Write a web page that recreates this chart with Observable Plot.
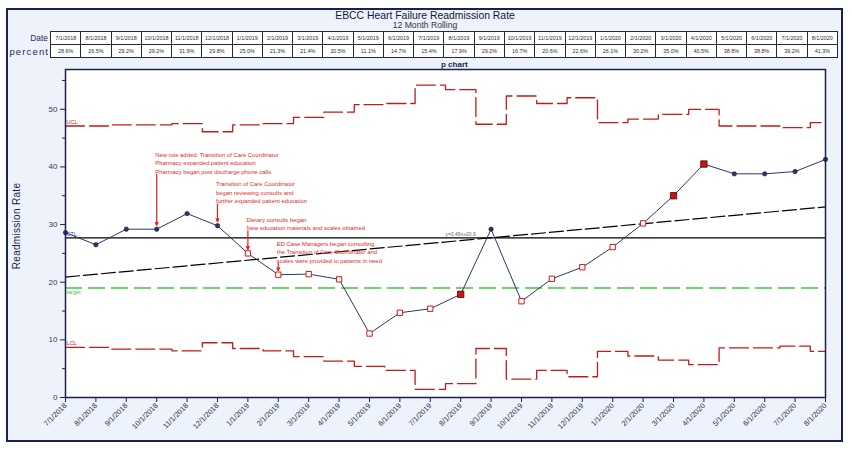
<!DOCTYPE html>
<html><head><meta charset="utf-8">
<script src="https://cdn.jsdelivr.net/npm/d3@7"></script>
<script src="https://cdn.jsdelivr.net/npm/@observablehq/plot@0.6"></script>
<style>
body{margin:0;background:#fff;font-family:"Liberation Sans",Arial,sans-serif;width:852px;height:461px;position:relative;overflow:hidden;}
#panel{position:absolute;left:6px;top:8px;width:833px;height:430px;background:#EEF2FA;border:2px solid #1c1f4f;}
#title{position:absolute;left:0;width:852px;top:9.5px;text-align:center;font-size:10.4px;color:#15153a;}
#title span,#subtitle span{position:relative;left:-1px;}
#subtitle{position:absolute;left:0;width:852px;top:19.5px;text-align:center;font-size:8.6px;color:#33334f;}
#tbl{position:absolute;left:50px;top:30.5px;border-collapse:collapse;table-layout:fixed;width:788px;}
#tbl td{border:1px solid #2a2a2a;background:#fff;height:12.2px;padding:0;text-align:center;font-size:5.4px;color:#2a2a40;overflow:hidden;white-space:nowrap;}
.rowlab{position:absolute;right:804px;text-align:right;color:#2a2a60;}
#pchart{position:absolute;left:441px;top:60px;font-size:8px;font-weight:bold;color:#1c1f4f;}
#ytitle{position:absolute;left:16px;top:226px;transform:translate(-50%,-50%) rotate(-90deg);font-size:10px;color:#1c1f4f;white-space:nowrap;letter-spacing:0.3px;}
#chart{position:absolute;left:0;top:60px;}
</style></head><body>
<div id="panel"></div>
<div id="title"><span>EBCC Heart Failure Readmission Rate</span></div>
<div id="subtitle"><span>12 Month Rolling</span></div>
<div class="rowlab" style="top:33px;font-size:8.4px;">Date</div>
<div class="rowlab" style="top:45.5px;font-size:9.6px;letter-spacing:1.1px;margin-right:-1.1px;">percent</div>
<table id="tbl"><tr id="rowDate"></tr><tr id="rowPct"></tr></table>
<div id="pchart">p chart</div>
<div id="ytitle">Readmission Rate</div>
<div id="chart"></div>
<script>
// ---- data ----
const months = ["7/1/2018","8/1/2018","9/1/2018","10/1/2018","11/1/2018","12/1/2018","1/1/2019","2/1/2019","3/1/2019","4/1/2019","5/1/2019","6/1/2019","7/1/2019","8/1/2019","9/1/2019","10/1/2019","11/1/2019","12/1/2019","1/1/2020","2/1/2020","3/1/2020","4/1/2020","5/1/2020","6/1/2020","7/1/2020","8/1/2020"];
const percent = [28.6,26.5,29.2,29.2,31.9,29.8,25.0,21.3,21.4,20.5,11.1,14.7,15.4,17.9,29.2,16.7,20.6,22.6,26.1,30.2,35.0,40.5,38.8,38.8,39.2,41.3];
const ucl = [47.1,47.1,47.3,47.3,47.5,46.1,47.3,47.5,48.6,49.5,50.8,51.0,54.2,53.4,47.4,52.3,51.0,52.0,47.7,48.3,49.1,50.0,47.1,47.1,46.8,47.7];
const lcl = [8.7,8.7,8.4,8.4,8.1,9.5,8.5,8.1,7.1,6.3,5.4,4.7,1.4,2.4,8.5,3.2,4.7,3.6,8.0,7.2,6.5,5.7,8.6,8.6,8.9,8.0];
const centerLine = 27.7;
const target = 19;
// point marker category: n = in control, o = flagged (hollow), f = flagged (filled)
const pointType = ["n","n","n","n","n","n","o","o","o","o","o","o","o","f","n","o","o","o","o","o","f","f","n","n","n","n"];
const yTicks = [0,10,20,30,40,50];
const yMinorTicks = [5,15,25,35,45,55];
const trendLabel = "y=0.49x+20.9";
const notes = [
  {i:3, text:"New role added: Transition of Care Coordinator\nPharmacy expanded patient education\nPharmacy began post discharge phone calls", len:9.5},
  {i:5, text:"Transition of Care Coordinator\nbegan reviewing consults and\nfurther expanded patient education", len:3.8},
  {i:6, text:"Dietary consults began\nNew education materials and scales obtained", len:3.9},
  {i:7, text:"ED Case Managers began consulting\nthe Transition of Care Coordinator and\nscales were provided to patients in need", len:2.0}
];

// ---- table ----
const rd = document.getElementById("rowDate"), rp = document.getElementById("rowPct");
months.forEach((m,i)=>{
  const a=document.createElement("td"); a.textContent=m; rd.appendChild(a);
  const b=document.createElement("td"); b.textContent=percent[i].toFixed(1)+"%"; rp.appendChild(b);
});

// ---- chart ----
const data = months.map((m,i)=>({i, m, p: percent[i], t: pointType[i], ucl: ucl[i], lcl: lcl[i]}));
const RED = "#c41a1a", NAVY = "#2b3766", AXIS = "#1c1f4f";
const chart = Plot.plot({
  width: 852, height: 385,
  marginLeft: 65, marginRight: 27, marginTop: 9, marginBottom: 48,
  style: {fontFamily: "Liberation Sans, Arial, sans-serif", background: "transparent", color: "#33334f"},
  x: {type: "linear", domain: [0, 25]},
  y: {domain: [0, 56.9]},
  marks: [
    Plot.frame({fill: "white"}),
    Plot.axisY({ticks: yTicks, tickSize: 5, tickPadding: 3, fontSize: 8, stroke: AXIS, fill: "#3a3a55", label: null}),
    Plot.axisY({ticks: yMinorTicks, tickSize: 3, text: null, stroke: AXIS, label: null}),
    Plot.axisX({ticks: d3.range(months.length), tickFormat: i => months[i], tickRotate: -45, tickSize: 5, tickPadding: 2, fontSize: 7.4, stroke: AXIS, fill: "#2a2a50", label: null}),
    Plot.line(data, {x: "i", y: "ucl", curve: "step", stroke: RED, strokeWidth: 1.3, strokeDasharray: "19,5"}),
    Plot.line(data, {x: "i", y: "lcl", curve: "step", stroke: RED, strokeWidth: 1.3, strokeDasharray: "19,5"}),
    Plot.ruleY([target], {stroke: "#3ccc3c", strokeWidth: 1.4, strokeDasharray: "17,6"}),
    Plot.ruleY([centerLine], {stroke: "black", strokeWidth: 1.2}),
    Plot.linearRegressionY(data, {x: "i", y: "p", ci: 0, stroke: "black", strokeWidth: 1.2, strokeDasharray: "14,4"}),
    Plot.text([centerLine], {x: () => 12.5, y: d => d, text: () => trendLabel, textAnchor: "start", dy: -3, fontSize: 5, fill: "#666"}),
    Plot.text([ucl[0]], {x: () => 0, y: d => d, text: () => "UCL", textAnchor: "start", dx: 1, dy: -4, fontSize: 5.5, fill: RED}),
    Plot.text([centerLine], {x: () => 0, y: d => d, text: () => "CTL", textAnchor: "start", dx: 1, dy: -4, fontSize: 5.5, fill: "#3355cc"}),
    Plot.text([target], {x: () => 0, y: d => d, text: () => "target", textAnchor: "start", dx: 1, dy: 4, fontSize: 5.5, fill: "#33cc33"}),
    Plot.text([lcl[0]], {x: () => 0, y: d => d, text: () => "LCL", textAnchor: "start", dx: 1, dy: -4, fontSize: 5.5, fill: RED}),
    Plot.line(data, {x: "i", y: "p", stroke: NAVY, strokeWidth: 1}),
    Plot.dot(data.filter(d => d.t === "n"), {x: "i", y: "p", r: 2.2, fill: NAVY, stroke: "#141a3a", strokeWidth: 0.6}),
    Plot.dot(data.filter(d => d.t === "o"), {x: "i", y: "p", symbol: "square", r: 3.0, fill: "white", stroke: "#d41818", strokeWidth: 1}),
    Plot.dot(data.filter(d => d.t === "f"), {x: "i", y: "p", symbol: "square", r: 3.6, fill: "#d41010", stroke: "#3a0a0a", strokeWidth: 0.8}),
    Plot.arrow(notes, {x: "i", y1: d => percent[d.i] + d.len, y2: d => percent[d.i], insetEnd: 4, headLength: 4, headAngle: 50, stroke: "#e02020", strokeWidth: 1.2}),
    Plot.text(notes, {x: "i", y: d => percent[d.i] + d.len, text: "text", textAnchor: "start", lineAnchor: "bottom", lineHeight: 1.45, dx: -1.5, dy: -0.5, fontSize: 5.9, fill: "#e02828"}),
    Plot.frame({stroke: AXIS, strokeWidth: 1.5})
  ]
});
document.getElementById("chart").appendChild(chart);
</script>
</body></html>
